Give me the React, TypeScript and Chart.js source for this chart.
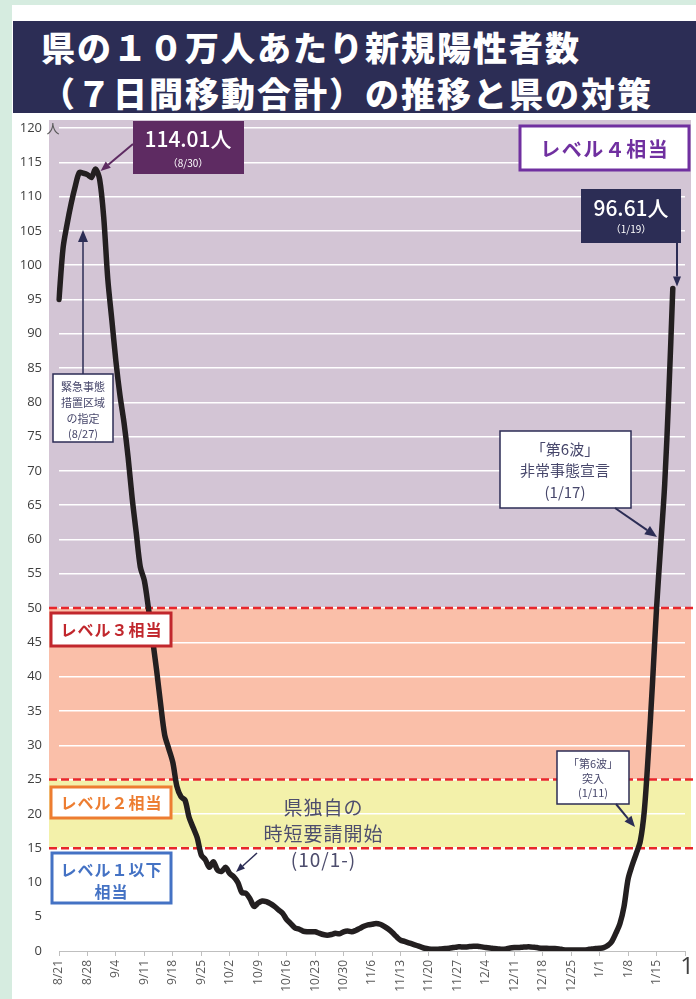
import React, { useEffect, useRef } from "react";
import { Chart, registerables } from "chart.js";

Chart.register(...registerables);

// ---------- data ----------
const START_MONTH = 8;
const START_DAY = 21;
const AXIS_DAY_COUNT = 155; // 8/21 .. 1/22
const MONTH_LENGTHS = [31, 28, 31, 30, 31, 30, 31, 31, 30, 31, 30, 31];
const TICK_EVERY = 7;

function buildDateLabels(): string[] {
  const out: string[] = [];
  let m = START_MONTH;
  let d = START_DAY;
  for (let i = 0; i < AXIS_DAY_COUNT; i++) {
    out.push(`${m}/${d}`);
    d++;
    if (d > MONTH_LENGTHS[m - 1]) {
      d = 1;
      m = m === 12 ? 1 : m + 1;
    }
  }
  return out;
}
const DATE_LABELS = buildDateLabels();

// 7-day moving total of new positives per 100k (8/21 .. 1/19)
const CASES_PER_100K = [
  95, 102.5, 106, 109, 111.5, 113.5, 113.4, 113.2, 112.8, 114.01,
  112.5, 107, 98, 92, 86, 81, 77, 72, 66, 61,
  56, 54, 50, 45.5, 41, 36, 31.5, 29.5, 27.5, 24,
  22.5, 22, 19.5, 18, 16.5, 14, 13.3, 12.2, 13, 11.8,
  11.6, 12.2, 11.3, 10.8, 10, 8.5, 8.4, 7.6, 6.5, 7,
  7.3, 7.2, 6.9, 6.5, 6, 5.5, 4.6, 4, 3.4, 3.2,
  2.9, 2.8, 2.8, 2.8, 2.6, 2.4, 2.3, 2.4, 2.6, 2.5,
  2.8, 2.9, 2.8, 3.0, 3.3, 3.6, 3.8, 3.9, 4.0, 3.9,
  3.6, 3.2, 2.7, 2.1, 1.6, 1.4, 1.2, 1.0, 0.8, 0.6,
  0.4, 0.3, 0.25, 0.25, 0.3, 0.35, 0.4, 0.5, 0.6, 0.6,
  0.6, 0.65, 0.7, 0.7, 0.6, 0.5, 0.45, 0.35, 0.3, 0.25,
  0.3, 0.45, 0.5, 0.5, 0.55, 0.6, 0.6, 0.55, 0.45, 0.4,
  0.4, 0.35, 0.35, 0.3, 0.2, 0.15, 0.15, 0.15, 0.15, 0.15,
  0.2, 0.3, 0.35, 0.4, 0.5, 0.8, 1.4, 2.6, 4.0, 6.5,
  10.5, 12.5, 14.2, 16, 20.5, 29, 39, 50, 59, 68,
  81, 96.61,
];

const Y_MIN = 0;
const Y_MAX = 120;
const Y_STEP = 5;
const LEVEL_LINES = [50, 25, 15];
const BAND_EDGES = [120, 50, 25, 15];
const BAND_COLORS = ["#d3c5d5", "#fabfa9", "#f3f1aa"];

const CJK = '"Noto Sans CJK JP", "Noto Sans", sans-serif';
const NAVY = "#2c2d55";

// ---------- drawing helpers ----------
function arrow(
  ctx: CanvasRenderingContext2D,
  x1: number, y1: number, x2: number, y2: number,
  color: string, width: number, headLen: number, headW: number
) {
  const ang = Math.atan2(y2 - y1, x2 - x1);
  const bx = x2 - Math.cos(ang) * headLen;
  const by = y2 - Math.sin(ang) * headLen;
  ctx.save();
  ctx.strokeStyle = color;
  ctx.fillStyle = color;
  ctx.lineWidth = width;
  ctx.beginPath();
  ctx.moveTo(x1, y1);
  ctx.lineTo(bx, by);
  ctx.stroke();
  ctx.beginPath();
  ctx.moveTo(x2, y2);
  ctx.lineTo(bx + Math.sin(ang) * headW / 2, by - Math.cos(ang) * headW / 2);
  ctx.lineTo(bx - Math.sin(ang) * headW / 2, by + Math.cos(ang) * headW / 2);
  ctx.closePath();
  ctx.fill();
  ctx.restore();
}

function text(
  ctx: CanvasRenderingContext2D, s: string, x: number, y: number,
  font: string, color: string, spacing = 0, align: CanvasTextAlign = "center"
) {
  ctx.save();
  ctx.font = font;
  ctx.fillStyle = color;
  ctx.textAlign = align;
  ctx.textBaseline = "middle";
  (ctx as any).letterSpacing = spacing + "px";
  ctx.fillText(s, x + (align === "center" ? spacing / 2 : 0), y);
  ctx.restore();
}

function box(
  ctx: CanvasRenderingContext2D, x: number, y: number, w: number, h: number,
  fill: string, stroke?: string, lw = 1.5
) {
  ctx.save();
  ctx.fillStyle = fill;
  ctx.fillRect(x, y, w, h);
  if (stroke) {
    ctx.strokeStyle = stroke;
    ctx.lineWidth = lw;
    ctx.strokeRect(x, y, w, h);
  }
  ctx.restore();
}

const decorPlugin = {
  id: "decor",
  beforeDraw(chart: any) {
    const { ctx, chartArea, scales } = chart;
    const y = scales.y;
    const left = chartArea.left - 10;
    const right = chartArea.right + 6;
    ctx.save();
    for (let i = 0; i < BAND_COLORS.length; i++) {
      const top = i === 0 ? y.getPixelForValue(BAND_EDGES[0]) - 8 : y.getPixelForValue(BAND_EDGES[i]);
      const bot = y.getPixelForValue(BAND_EDGES[i + 1]);
      ctx.fillStyle = BAND_COLORS[i];
      ctx.fillRect(left, top, right - left, bot - top);
    }
    ctx.restore();
  },
  beforeDatasetsDraw(chart: any) {
    const { ctx, chartArea, scales } = chart;
    const y = scales.y;
    ctx.save();
    ctx.strokeStyle = "#e8262b";
    ctx.lineWidth = 2.5;
    ctx.setLineDash([8, 4]);
    for (const v of LEVEL_LINES) {
      const py = y.getPixelForValue(v);
      ctx.beginPath();
      ctx.moveTo(chartArea.left - 10, py);
      ctx.lineTo(chart.width, py);
      ctx.stroke();
    }
    ctx.restore();
  },
  afterDatasetsDraw(chart: any) {
    const { ctx, scales } = chart;
    const x = scales.x;
    const y = scales.y;

    // "人" unit
    text(ctx, "人", 53, y.getPixelForValue(120), `13px ${CJK}`, "#595959");

    // peak label
    box(ctx, 133, 121, 111, 53, "#5e2b62");
    text(ctx, "114.01人", 188, 139, `500 21px ${CJK}`, "#ffffff");
    text(ctx, "（8/30）", 188, 163, `10px ${CJK}`, "#ffffff");
    arrow(ctx, 133, 144, x.getPixelForValue(9) + 5, y.getPixelForValue(114.01) + 2, "#5e2b62", 2, 10, 8);

    // level 4
    box(ctx, 520, 126, 169, 44, "#ffffff", "#7030a0", 3);
    text(ctx, "レベル４相当", 604, 149, `bold 20px ${CJK}`, "#7030a0", 1.5);

    // latest value
    box(ctx, 581, 189, 100, 54, NAVY);
    text(ctx, "96.61人", 631, 208, `500 21px ${CJK}`, "#ffffff");
    text(ctx, "（1/19）", 631, 229, `10px ${CJK}`, "#ffffff");
    arrow(ctx, 677, 243, 677, y.getPixelForValue(96.61) - 2, NAVY, 2, 10, 8);

    // emergency measures 8/27
    box(ctx, 53, 374, 60, 68, "#ffffff", NAVY, 1.5);
    const c1 = "#47476b";
    text(ctx, "緊急事態", 83, 387, `11px ${CJK}`, c1);
    text(ctx, "措置区域", 83, 403, `11px ${CJK}`, c1);
    text(ctx, "の指定", 83, 419, `11px ${CJK}`, c1);
    text(ctx, "(8/27)", 83, 434, `11px ${CJK}`, c1);
    arrow(ctx, 83, 374, 83, 230, NAVY, 1.5, 12, 10);

    // state of emergency 1/17
    box(ctx, 500, 431, 131, 77, "#ffffff", NAVY, 1.5);
    text(ctx, "「第6波」", 565, 449, `15px ${CJK}`, c1);
    text(ctx, "非常事態宣言", 565, 470, `15px ${CJK}`, c1);
    text(ctx, "(1/17)", 565, 492, `15px ${CJK}`, c1);
    arrow(ctx, 615, 508, 657, 537, NAVY, 2, 12, 10);

    // 6th wave 1/11
    box(ctx, 557, 751, 72, 53, "#ffffff", NAVY, 1.5);
    text(ctx, "「第6波」", 593, 764, `11px ${CJK}`, c1);
    text(ctx, "突入", 593, 779, `11px ${CJK}`, c1);
    text(ctx, "(1/11)", 593, 793, `11px ${CJK}`, c1);
    arrow(ctx, 616, 804, 635, 827, NAVY, 2, 11, 9);

    // level 3, 2, 1
    box(ctx, 51, 613, 120, 33, "#ffffff", "#c1272d", 3);
    text(ctx, "レベル３相当", 111, 630, `bold 16px ${CJK}`, "#c1272d", 1);
    box(ctx, 51, 787, 120, 31, "#ffffff", "#ed7d31", 3);
    text(ctx, "レベル２相当", 111, 803, `bold 16px ${CJK}`, "#ed7d31", 1);
    box(ctx, 52, 853, 119, 50, "#ffffff", "#4472c4", 3);
    text(ctx, "レベル１以下", 111, 870, `bold 16px ${CJK}`, "#4472c4", 1);
    text(ctx, "相当", 111, 892, `bold 16px ${CJK}`, "#4472c4", 1);

    // prefectural short-hours request
    const c2 = "#4d4d6d";
    text(ctx, "県独自の", 323, 808, `19px ${CJK}`, c2, 1);
    text(ctx, "時短要請開始", 323, 834, `19px ${CJK}`, c2, 1);
    text(ctx, "(10/1-)", 323, 860, `19px ${CJK}`, c2, 1);
    arrow(ctx, 257, 853, 236, 872, NAVY, 1.5, 9, 7);

    // page mark
    text(ctx, "1", 687, 967, `24px "Open Sans", sans-serif`, "#404040");
  },
};

function ChartCanvas() {
  const ref = useRef<HTMLCanvasElement | null>(null);
  useEffect(() => {
    if (!ref.current) return;
    const chart = new Chart(ref.current, {
      type: "line",
      data: {
        labels: DATE_LABELS,
        datasets: [
          {
            data: CASES_PER_100K,
            borderColor: "#231f20",
            borderWidth: 5.5,
            pointRadius: 0,
            tension: 0.3,
            borderCapStyle: "round",
            borderJoinStyle: "round",
            fill: false,
          },
        ],
      },
      options: {
        animation: false,
        responsive: false,
        devicePixelRatio: 1,
        layout: { padding: { top: 128, right: 11, left: 0, bottom: 0 } },
        plugins: { legend: { display: false }, tooltip: { enabled: false }, title: { display: false } },
        scales: {
          x: {
            type: "category",
            offset: false,
            afterFit(scale: any) {
              scale.height = 48;
              scale.paddingLeft = 0;
              scale.paddingRight = 0;
            },
            afterBuildTicks(scale: any) {
              scale.ticks = scale.ticks.filter((t: any) => t.value % TICK_EVERY === 0);
            },
            ticks: {
              autoSkip: false,
              maxRotation: 90,
              minRotation: 90,
              padding: 4,
              color: "#595959",
              font: { family: '"Open Sans", sans-serif', size: 12 },
              callback(value: any) {
                const idx = Number(value);
                if (idx >= CASES_PER_100K.length) return "";
                return DATE_LABELS[idx];
              },
            },
            grid: {
              display: true,
              drawOnChartArea: false,
              drawTicks: true,
              tickLength: 5,
              color: "#bfbfbf",
            },
            border: { display: true, color: "#bfbfbf", width: 1 },
          },
          y: {
            min: Y_MIN,
            max: Y_MAX,
            afterFit(scale: any) {
              scale.width = 59;
            },
            ticks: {
              stepSize: Y_STEP,
              padding: 17,
              color: "#404040",
              font: { family: '"Open Sans", sans-serif', size: 13 },
            },
            grid: {
              drawTicks: false,
              lineWidth: 1.5,
              color: (c: any) => (c.tick && c.tick.value === 0 ? "rgba(0,0,0,0)" : "#ffffff"),
            },
            border: { display: false },
          },
        },
      },
      plugins: [decorPlugin],
    });
    return () => chart.destroy();
  }, []);
  return (
    <canvas
      ref={ref}
      width={696}
      height={999}
      style={{ position: "absolute", left: 0, top: 0, width: 696, height: 999 }}
    />
  );
}

export default function App() {
  const titleStyle: React.CSSProperties = {
    position: "absolute",
    color: "#ffffff",
    fontFamily: CJK,
    fontWeight: 900,
    fontSize: 34,
    lineHeight: "34px",
    letterSpacing: 2,
    whiteSpace: "nowrap",
  };
  return (
    <div
      style={{
        position: "absolute",
        left: 0,
        top: 0,
        width: 696,
        height: 999,
        background: "#d6ece0",
        overflow: "hidden",
      }}
    >
      <div style={{ position: "absolute", left: 12, top: 5, width: 684, height: 994, background: "#ffffff" }} />
      <div style={{ position: "absolute", left: 13, top: 21, width: 683, height: 92, background: NAVY }} />
      <div style={{ ...titleStyle, left: 41, top: 30 }}>県の１０万人あたり新規陽性者数</div>
      <div style={{ ...titleStyle, left: 41, top: 76 }}>（７日間移動合計）の推移と県の対策</div>
      <ChartCanvas />
    </div>
  );
}
